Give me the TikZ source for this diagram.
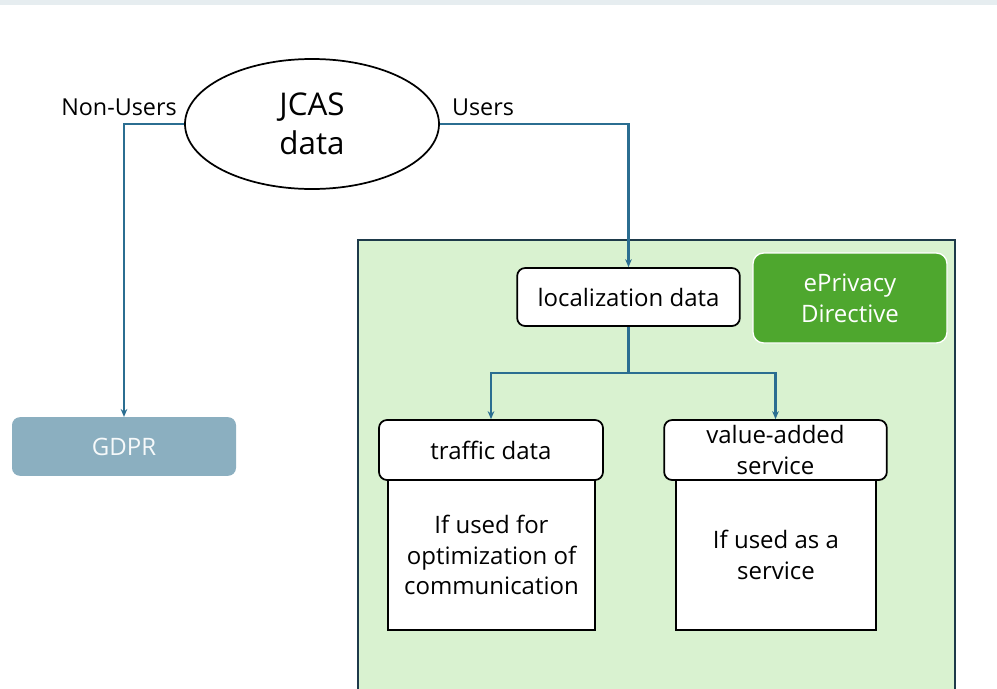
\documentclass[tikz,border=0pt]{standalone}
\usepackage{fontspec}
\setmainfont{Open Sans}
\usetikzlibrary{arrows.meta,shapes.geometric}

\definecolor{linkblue}{HTML}{2B6E91}
\definecolor{lawgreen}{HTML}{D9F2D0}
\definecolor{eprivgreen}{HTML}{4EA72E}
\definecolor{gdprblue}{HTML}{8BAFC0}
\definecolor{stripgray}{HTML}{E6EDF0}
\definecolor{frame}{HTML}{1E3A4A}

\begin{document}
\begin{tikzpicture}[x=0.75pt, y=-0.75pt,
    every node/.style={font=\fontsize{18}{23}\selectfont, align=center, inner sep=0pt},
    link/.style={draw=linkblue, line width=1.7pt, -{Stealth[length=6pt, width=5pt]}},
    whitebox/.style={draw=black, fill=white, line width=1.3pt, rounded corners=6pt},
    bodybox/.style={draw=black, fill=white, line width=1.3pt}]
    \useasboundingbox (0,0) rectangle (997,689);
    \fill[stripgray] (0,0) rectangle (997,5);
    % ePrivacy area
    \draw[fill=lawgreen, draw=frame, line width=1.3pt] (358,695) -- (358,240) -- (955,240) -- (955,695);

    \node[ellipse, draw, line width=1.3pt, minimum width=190.5pt, minimum height=97.5pt, font=\fontsize{23.5}{29}\selectfont] (jcas) at (312,124) {JCAS\\data};
    \node (nonusers) at (119,107) {\fontsize{17.5}{20}\selectfont Non-Users};
    \node (users) at (483,107) {\fontsize{17.5}{20}\selectfont Users};

    \node[fill=gdprblue, rounded corners=6pt, minimum width=168pt, minimum height=44pt, text=white!92!gdprblue] (gdpr) at (124,446.5) {GDPR};

    \node[whitebox, minimum width=167pt, minimum height=43.5pt] (loc) at (628.5,297) {localization data};
    \node[fill=eprivgreen, draw=white, line width=1pt, rounded corners=8pt, minimum width=145.5pt, minimum height=67.5pt, text=white] (epriv) at (850,298) {ePrivacy\\Directive};

    \node[bodybox, minimum width=155pt, minimum height=112.5pt] (trafficbody) at (491.5,555) {If used for\\optimization of\\communication};
    \node[whitebox, minimum width=168pt, minimum height=45pt] (traffic) at (491,450) {traffic data};
    \node[bodybox, minimum width=150pt, minimum height=112.5pt] (valuebody) at (776,555) {If used as a\\service};
    \node[whitebox, minimum width=167pt, minimum height=45pt] (value) at (775.5,450) {value-added\\service};

    \coordinate (split) at (628.5,373);
    \draw[link] (jcas.west) -| (gdpr.north);
    \draw[link] (jcas.east) -| (loc.north);
    \draw[draw=linkblue, line width=1.7pt] (loc.south) -- (split);
    \draw[link] (split) -| (traffic.north);
    \draw[link] (split) -| (value.north);
\end{tikzpicture}
\end{document}
